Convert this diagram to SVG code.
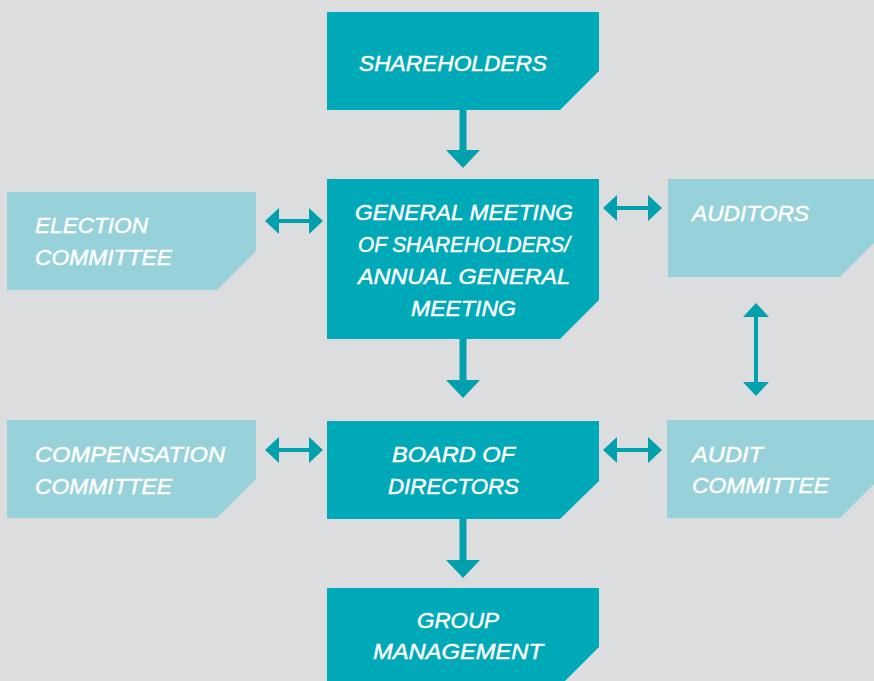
<svg xmlns="http://www.w3.org/2000/svg" width="874" height="681" viewBox="0 0 874 681">
  <style>
    .dark { fill: #00A9B7; }
    .light { fill: #97D1D9; }
    .conn { fill: #00A0AD; }
    .lbl { fill: #FFFFFF; stroke: #FFFFFF; stroke-width: 0.45px; font-family: "Liberation Sans", Arial, sans-serif; font-style: italic; font-size: 22px; }
  </style>
  <rect x="0" y="0" width="874" height="681" fill="#DCDDDF"/>

  <!-- Boxes: rectangles with the lower-right corner clipped -->
  <g id="shareholders">
    <path class="dark" d="M327 12H599V71L560 110H327Z"/>
    <text class="lbl" x="359" y="71" textLength="188" lengthAdjust="spacingAndGlyphs">SHAREHOLDERS</text>
  </g>

  <g id="general-meeting">
    <path class="dark" d="M327 179H599V300L560 339H327Z"/>
    <text class="lbl" x="355" y="220" textLength="218" lengthAdjust="spacingAndGlyphs">GENERAL MEETING</text>
    <text class="lbl" x="358" y="252" textLength="212" lengthAdjust="spacingAndGlyphs">OF SHAREHOLDERS/</text>
    <text class="lbl" x="358" y="284" textLength="212" lengthAdjust="spacingAndGlyphs">ANNUAL GENERAL</text>
    <text class="lbl" x="411" y="316" textLength="105" lengthAdjust="spacingAndGlyphs">MEETING</text>
  </g>

  <g id="election-committee">
    <path class="light" d="M7 192H256V251L217 290H7Z"/>
    <text class="lbl" x="35" y="233" textLength="113" lengthAdjust="spacingAndGlyphs">ELECTION</text>
    <text class="lbl" x="35" y="265" textLength="137" lengthAdjust="spacingAndGlyphs">COMMITTEE</text>
  </g>

  <g id="auditors">
    <path class="light" d="M668 179H874V243L840 277H668Z"/>
    <text class="lbl" x="692" y="221" textLength="117" lengthAdjust="spacingAndGlyphs">AUDITORS</text>
  </g>

  <g id="board">
    <path class="dark" d="M327 421H599V481L560 519H327Z"/>
    <text class="lbl" x="392" y="462" textLength="123" lengthAdjust="spacingAndGlyphs">BOARD OF</text>
    <text class="lbl" x="388" y="494" textLength="131" lengthAdjust="spacingAndGlyphs">DIRECTORS</text>
  </g>

  <g id="compensation-committee">
    <path class="light" d="M7 420H256V479L217 518H7Z"/>
    <text class="lbl" x="35" y="462" textLength="190" lengthAdjust="spacingAndGlyphs">COMPENSATION</text>
    <text class="lbl" x="35" y="494" textLength="137" lengthAdjust="spacingAndGlyphs">COMMITTEE</text>
  </g>

  <g id="audit-committee">
    <path class="light" d="M667 420H874V484L840 518H667Z"/>
    <text class="lbl" x="692" y="462" textLength="71" lengthAdjust="spacingAndGlyphs">AUDIT</text>
    <text class="lbl" x="692" y="493" textLength="137" lengthAdjust="spacingAndGlyphs">COMMITTEE</text>
  </g>

  <g id="group-management">
    <path class="dark" d="M327 588H599V647L560 686H327Z"/>
    <text class="lbl" x="417" y="628" textLength="82" lengthAdjust="spacingAndGlyphs">GROUP</text>
    <text class="lbl" x="373" y="659" textLength="170" lengthAdjust="spacingAndGlyphs">MANAGEMENT</text>
  </g>

  <!-- Connectors -->
  <g id="connectors" class="conn">
    <!-- downward arrows -->
    <path d="M459.5 110H466.5V150H480L463 168L446 150H459.5Z"/>
    <path d="M459.5 339H466.5V380H480L463 398L446 380H459.5Z"/>
    <path d="M459.5 519H466.5V560H480L463 578L446 560H459.5Z"/>
    <!-- two-way horizontal arrows -->
    <path d="M265 221L279 208V219H309V208L323 221L309 234V223H279V234Z"/>
    <path d="M603 208L617 195V206H648V195L662 208L648 221V210H617V221Z"/>
    <path d="M265 450L279 437V448H309V437L323 450L309 463V452H279V463Z"/>
    <path d="M603 450L617 437V448H648V437L662 450L648 463V452H617V463Z"/>
    <!-- two-way vertical arrow -->
    <path d="M756 303L769 317H758V382H769L756 396L743 382H754V317H743Z"/>
  </g>
</svg>
